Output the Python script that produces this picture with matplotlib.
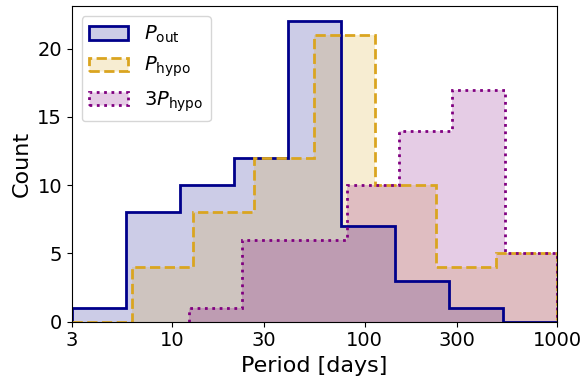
import matplotlib.pyplot as plt
import numpy as np
from matplotlib.patches import Patch

# histogram counts per logarithmic bin
bins_out = np.logspace(np.log10(3), 3, 10)
counts_out = [1, 8, 10, 12, 22, 7, 3, 1, 0]

bins_hypo = np.logspace(np.log10(3), 3, 9)
counts_hypo = [0, 4, 8, 12, 21, 10, 4, 5]

bins_3hypo = np.logspace(np.log10(12.2), 3, 8)
counts_3hypo = [1, 6, 6, 10, 14, 17, 5]

series = [
    (bins_out, counts_out, 'darkblue', '-', r'$P_{\rm out}$'),
    (bins_hypo, counts_hypo, 'goldenrod', '--', r'$P_{\rm hypo}$'),
    (bins_3hypo, counts_3hypo, 'purple', ':', r'$3P_{\rm hypo}$'),
]

fig, ax = plt.subplots(figsize=(5.84, 3.78), dpi=100)
fig.subplots_adjust(left=0.123, right=0.954, bottom=0.149, top=0.983)

handles = []
for edges, counts, color, ls, label in series:
    centers = np.sqrt(edges[:-1] * edges[1:])
    ax.hist(centers, bins=edges, weights=counts, histtype='bar', color=color, alpha=0.2)
    ax.hist(centers, bins=edges, weights=counts, histtype='step', color=color, lw=2, ls=ls)
    fc = list(plt.matplotlib.colors.to_rgba(color))
    fc[3] = 0.2
    handles.append(Patch(facecolor=fc, edgecolor=color, lw=2, ls=ls, label=label))

ax.set_xscale('log')
ax.set_xlim(3, 1000)
ax.set_xticks([3, 10, 30, 100, 300, 1000])
ax.set_xticklabels(['3', '10', '30', '100', '300', '1000'])
ax.xaxis.set_minor_locator(plt.NullLocator())
ax.set_yticks([0, 5, 10, 15, 20])
ax.tick_params(labelsize=14)

ax.set_xlabel('Period [days]', fontsize=16)
ax.set_ylabel('Count', fontsize=16)
ax.legend(handles=handles, loc='upper left', fontsize=14)

plt.savefig('out.png', dpi=100)
